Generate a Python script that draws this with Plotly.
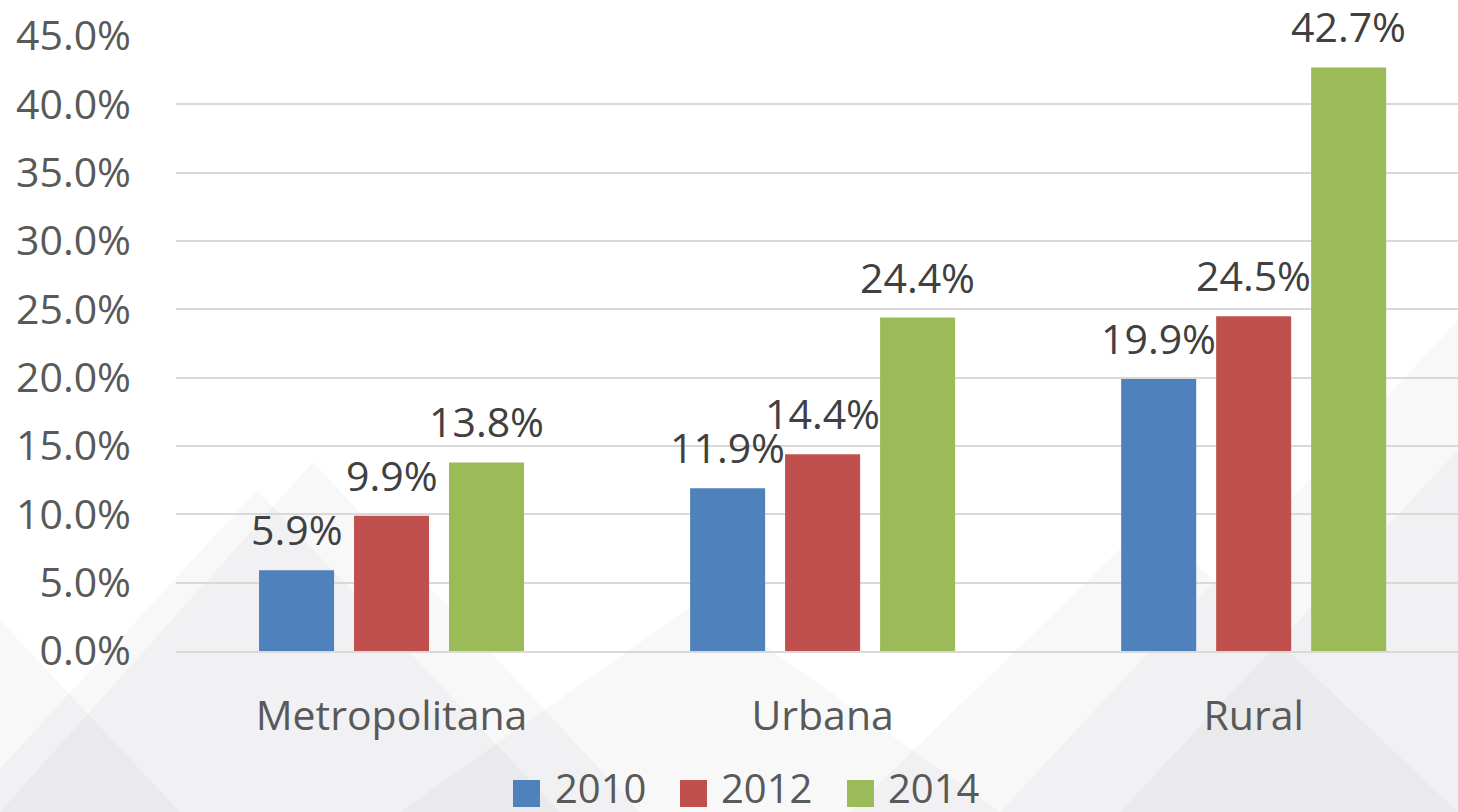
import plotly.graph_objects as go

categories = ["Metropolitana", "Urbana", "Rural"]
years = ["2010", "2012", "2014"]
v2010 = [5.9, 11.9, 19.9]
v2012 = [9.9, 14.4, 24.5]
v2014 = [13.8, 24.4, 42.7]
series = [v2010, v2012, v2014]
colors = ["#4F81BD", "#C0504D", "#9BBB59"]
y_ticks = [0, 5, 10, 15, 20, 25, 30, 35, 40, 45]

FONT = "Open Sans"
W, H = 1458, 812
L, T, B = 176, 36, 161
PW = W - L
PH = H - T - B
SLOT = 95  # pixel distance between bars in a group

fig = go.Figure()
annotations = []
for i, (name, vals, col) in enumerate(zip(years, series, colors)):
    fig.add_trace(go.Bar(
        x=categories, y=vals, name=name, marker_color=col,
        marker_line_width=0, showlegend=False,
    ))
    for c, v in zip(categories, vals):
        annotations.append(dict(
            x=c, y=v, xref="x", yref="y", text=f"{v:.1f}%",
            xshift=(i - 1) * SLOT, yshift=11, yanchor="bottom", xanchor="center",
            showarrow=False,
            font=dict(family=FONT, size=41, color="#404040")))

def px(X):
    return (X - L) / PW

def py(Y):
    return (H - B - Y) / PH

# faint background triangles (decoration)
tri = [
    [(0, 812), (313, 462), (640, 812)],
    [(-40, 812), (257, 490), (560, 812)],
    [(400, 812), (700, 600), (1000, 812)],
    [(1000, 812), (1458, 320), (1458, 812)],
    [(1120, 812), (1458, 450), (1458, 812)],
    [(0, 812), (0, 620), (180, 812)],
    [(850, 812), (1150, 520), (1458, 812)],
]
shapes = []
for t in tri:
    path = "M " + " L ".join(f"{px(a)},{py(b)}" for a, b in t) + " Z"
    shapes.append(dict(type="path", path=path, xref="paper", yref="paper",
                       fillcolor="rgba(120,120,130,0.05)", line_width=0, layer="below"))

# manual legend
leg_sq = [513, 680, 847]
leg_tx = [553, 719, 886]
for name, col, sx, tx in zip(years, colors, leg_sq, leg_tx):
    shapes.append(dict(type="rect", xref="paper", yref="paper",
                       x0=px(sx), x1=px(sx + 27), y0=py(807), y1=py(780),
                       fillcolor=col, line_width=0))
    annotations.append(dict(text=name, xref="paper", yref="paper",
                            x=px(tx), y=py(787), xanchor="left", yanchor="middle",
                            showarrow=False,
                            font=dict(family=FONT, size=40, color="#595959")))

fig.update_layout(
    width=W, height=H,
    margin=dict(l=L, r=0, t=T, b=B, pad=0),
    paper_bgcolor="white", plot_bgcolor="rgba(0,0,0,0)",
    barmode="group", bargap=0.339, bargroupgap=0.21,
    showlegend=False,
    shapes=shapes, annotations=annotations,
    xaxis=dict(range=[-0.5, 2.474], showgrid=False, zeroline=False,
               showline=True, linecolor="#D9D9D9", linewidth=2,
               ticks="", ticklabelstandoff=28,
               tickfont=dict(family=FONT, size=41, color="#595959")),
    yaxis=dict(range=[0, 45], tickvals=y_ticks,
               ticktext=[f"{v:.1f}%" for v in y_ticks],
               showgrid=True, gridcolor="#D9D9D9", gridwidth=2,
               zeroline=False, showline=False, ticks="",
               ticklabelstandoff=44,
               tickfont=dict(family=FONT, size=41, color="#595959")),
)

fig.write_html("out.html", config={"displayModeBar": False},
               post_script="document.body.style.margin='0';document.body.style.overflow='hidden';")
